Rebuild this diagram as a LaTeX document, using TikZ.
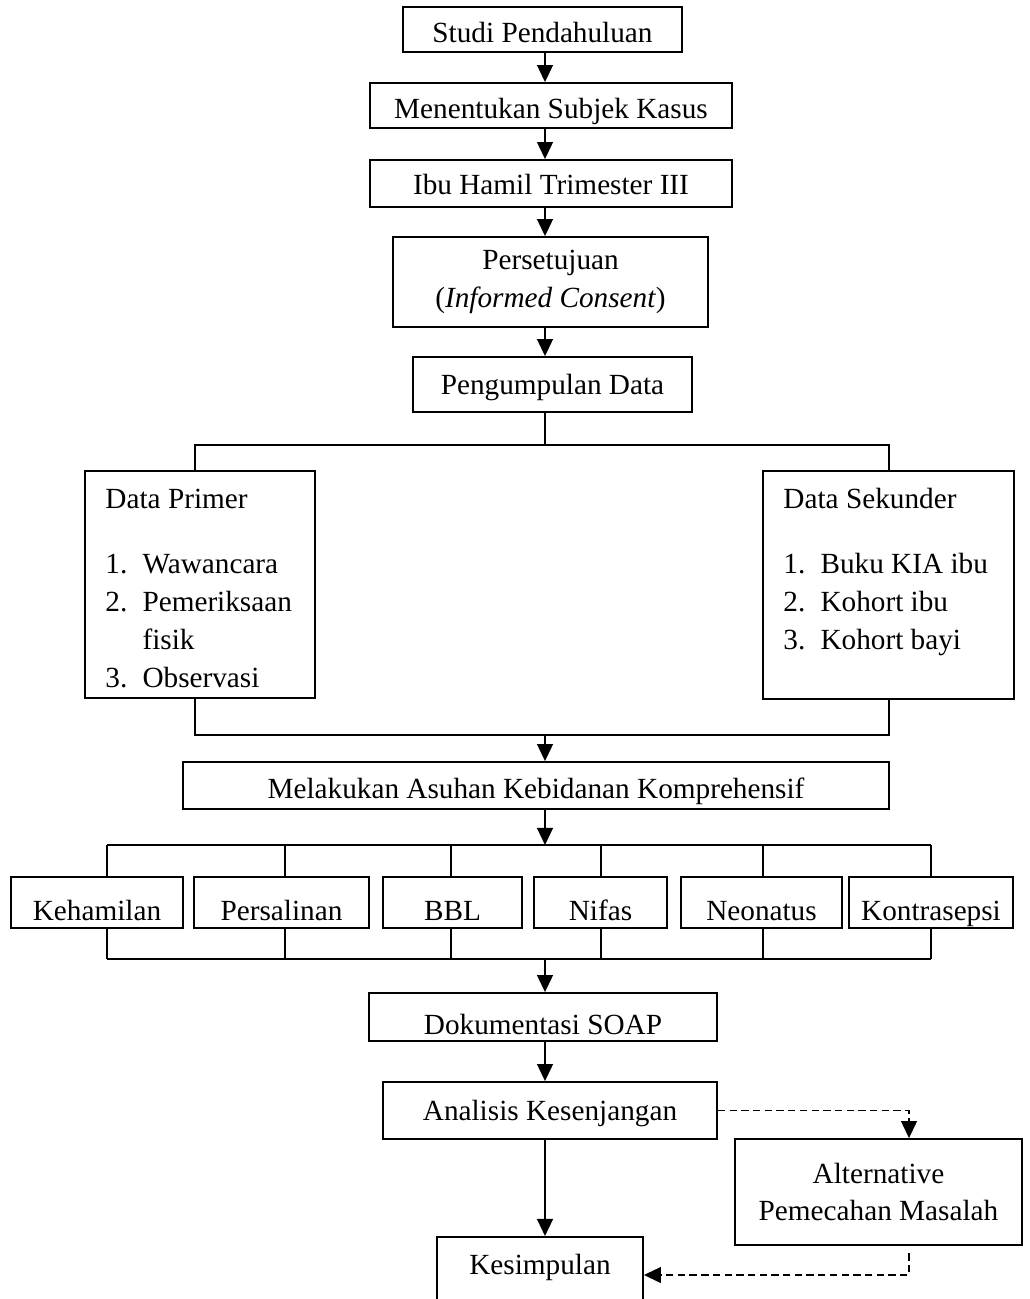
\documentclass[tikz,border=0pt]{standalone}
\usepackage{fontspec}
\setmainfont{Liberation Serif}
\usetikzlibrary{arrows.meta}
\def\pw{0.4103pt}
\newcommand{\nmr}[1]{\makebox[15.2pt][l]{#1}}

\begin{document}
\begin{tikzpicture}[x=0.4103pt, y=-0.4103pt,
    every node/.style={font=\fontsize{12}{15.5}\selectfont},
    box/.style={draw, line width=0.75pt, inner sep=0pt},
    txtlow/.style={text height=#1, text depth=0pt},
    line/.style={line width=0.75pt},
    arr/.style={line, -{Triangle[length=7pt,width=6.5pt]}},
    darr/.style={arr, dash pattern=on 3pt off 1.8pt}]
      \useasboundingbox (0,0) rectangle (1030,1299);
      \coordinate (ax) at (545,0);

      \node[box, txtlow=11pt, minimum width=279*\pw, minimum height=45*\pw] (studi) at (542.5,29.5) {Studi Pendahuluan};
      \node[box, txtlow=10.3pt, minimum width=362*\pw, minimum height=45*\pw] (subjek) at (551,105.5) {Menentukan Subjek Kasus};
      \node[box, txtlow=9.4pt, minimum width=362*\pw, minimum height=47*\pw] (ibu) at (551,183.5) {Ibu Hamil Trimester III};
      \node[box, minimum width=315*\pw, minimum height=90*\pw, align=center] (setuju) at (550.5,282) {Persetujuan\\(\textit{Informed Consent})};
      \node[box, txtlow=8.6pt, minimum width=279*\pw, minimum height=55*\pw] (kumpul) at (552.5,384.5) {Pengumpulan Data};

      \node[box, minimum width=230*\pw, minimum height=227*\pw] (primer) at (200,584.5) {};
      \node[anchor=north west, inner sep=0pt, align=left] (primertxt) at (105,489)
        {Data Primer\\[11.2pt]\nmr{1.}Wawancara\\\nmr{2.}Pemeriksaan\\\nmr{}fisik\\\nmr{3.}Observasi};
      \node[box, minimum width=251*\pw, minimum height=228*\pw] (sekunder) at (888.5,585) {};
      \node[anchor=north west, inner sep=0pt, align=left] (sekundertxt) at (783,488)
        {Data Sekunder\\[11.2pt]\nmr{1.}Buku KIA ibu\\\nmr{2.}Kohort ibu\\\nmr{3.}Kohort bayi};

      \node[box, txtlow=10.3pt, minimum width=706*\pw, minimum height=47*\pw] (asuhan) at (536,785.5) {Melakukan Asuhan Kebidanan Komprehensif};

      \node[box, txtlow=14.5pt, minimum width=172*\pw, minimum height=51*\pw] (keh) at (97,902.5) {Kehamilan};
      \node[box, txtlow=14.5pt, minimum width=175*\pw, minimum height=51*\pw] (per) at (281.5,902.5) {Persalinan};
      \node[box, txtlow=14.5pt, minimum width=139*\pw, minimum height=51*\pw] (bbl) at (452.5,902.5) {BBL};
      \node[box, txtlow=14.5pt, minimum width=133*\pw, minimum height=51*\pw] (nif) at (600.5,902.5) {Nifas};
      \node[box, txtlow=14.5pt, minimum width=161*\pw, minimum height=51*\pw] (neo) at (761.5,902.5) {Neonatus};
      \node[box, txtlow=14.5pt, minimum width=164*\pw, minimum height=51*\pw] (kon) at (931,902.5) {Kontrasepsi};

      \node[box, txtlow=14.5pt, minimum width=348*\pw, minimum height=48*\pw] (dok) at (543,1017) {Dokumentasi SOAP};
      \node[box, txtlow=8pt, minimum width=334*\pw, minimum height=57*\pw] (ana) at (550,1110.5) {Analisis Kesenjangan};
      \node[box, minimum width=287*\pw, minimum height=106*\pw, align=center] (alt) at (878.5,1192) {Alternative\\Pemecahan Masalah};
      \node[box, anchor=north, minimum width=206*\pw, inner ysep=7pt, text depth=20pt] (kes) at (540,1236) {Kesimpulan};

      \draw[arr] (studi.south -| ax) -- (subjek.north -| ax);
      \draw[arr] (subjek.south -| ax) -- (ibu.north -| ax);
      \draw[arr] (ibu.south -| ax) -- (setuju.north -| ax);
      \draw[arr] (setuju.south -| ax) -- (kumpul.north -| ax);

      \coordinate (bagi) at (545,445);
      \coordinate (pl) at (195,445);
      \coordinate (pr) at (889,445);
      \draw[line] (kumpul.south -| ax) -- (bagi);
      \draw[line] (primer.north -| pl) -- (pl) -- (pr) -- (sekunder.north -| pr);

      \coordinate (gab) at (545,735);
      \coordinate (gl) at (195,735);
      \coordinate (gr) at (889,735);
      \draw[line] (primer.south -| gl) -- (gl) -- (gr) -- (sekunder.south -| gr);
      \draw[arr] (gab) -- (asuhan.north -| ax);

      \coordinate (bus1) at (545,845);
      \coordinate (bus2) at (545,959);
      \draw[arr] (asuhan.south -| ax) -- (bus1);
      \draw[line] (107,845) -- (931,845);
      \draw[line] (107,959) -- (931,959);
      \foreach \n/\x in {keh/107, per/285, bbl/451, nif/601, neo/763, kon/931} {
        \draw[line] (\x,845) -- (\n.north -| \x,0);
        \draw[line] (\n.south -| \x,0) -- (\x,959);
      }
      \draw[arr] (bus2) -- (dok.north -| ax);
      \draw[arr] (dok.south -| ax) -- (ana.north -| ax);
      \draw[arr] (ana.south -| ax) -- (kes.north -| ax);

      \coordinate (da) at (909,1109);
      \coordinate (db) at (909,1275);
      \draw[darr] (ana.east) -- (ana.east -| da) -- (alt.north -| da);
      \draw[darr, shorten <=3pt] (alt.south -| db) -- (db) -- (db -| kes.east);
    \end{tikzpicture}
\end{document}
